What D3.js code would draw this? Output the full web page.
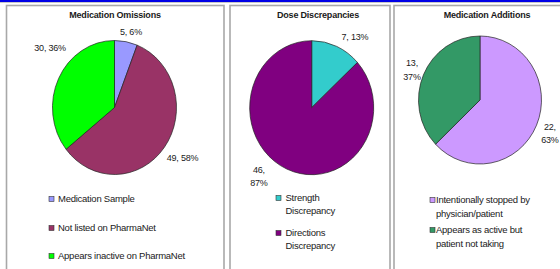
<!DOCTYPE html>
<html><head><meta charset="utf-8">
<script src="https://cdn.jsdelivr.net/npm/d3@7"></script>
<style>
html,body{margin:0;padding:0;background:#fff;}
svg{display:block;font-family:Arial,"Liberation Sans",sans-serif;}
</style></head>
<body>
<svg id="chart" width="560" height="269"></svg>
<script>
// ---- data ----
const omissionCategories = ["Medication Sample", "Not listed on PharmaNet", "Appears inactive on PharmaNet"];
const omissionValues = [5, 49, 30];
const doseCategories = ["Strength Discrepancy", "Directions Discrepancy"];
const doseValues = [7, 46];
const additionCategories = ["Intentionally stopped by physician/patient", "Appears as active but patient not taking"];
const additionValues = [22, 13];
const chartTitles = ["Medication Omissions", "Dose Discrepancies", "Medication Additions"];

// ---- layout / style ----
const colors = [
  ["#9999ff", "#993366", "#00ff00"],
  ["#33cccc", "#800080"],
  ["#cc99ff", "#339966"]
];
const charts = [
  {title: chartTitles[0], cats: omissionCategories, vals: omissionValues, colors: colors[0],
   panel: [6.5, 224], cx: 114.5, cy: 107.5, rx: 62, ry: 67, titleX: 115,
   lab: [{nudge: 2.5, rf: 1.16, wrap: false}, {nudge: -2, rf: 1.33, wrap: false}, {nudge: 15, rf: 1.37, wrap: false}],
   legend: {sx: 49, tx: 58, rows: [199, 228, 256], lines: [["Medication Sample"], ["Not listed on PharmaNet"], ["Appears inactive on PharmaNet"]], lh: 12}},
  {title: chartTitles[1], cats: doseCategories, vals: doseValues, colors: colors[1],
   panel: [230, 390], cx: 311.7, cy: 107.7, rx: 62, ry: 67, titleX: 318,
   lab: [{nudge: 9.5, rf: 1.27, wrap: false}, {nudge: 16, rf: 1.33, wrap: true}],
   legend: {sx: 276, tx: 285.5, rows: [198, 233], lines: [["Strength", "Discrepancy"], ["Directions", "Discrepancy"]], lh: 12.5}},
  {title: chartTitles[2], cats: additionCategories, vals: additionValues, colors: colors[2],
   panel: [394, 562], cx: 480, cy: 100, rx: 61.5, ry: 64, titleX: 487,
   lab: [{nudge: 1.4, rf: 1.25, wrap: true}, {nudge: -0.2, rf: 1.2, wrap: true}],
   legend: {sx: 430, tx: 436, rows: [200, 230], lines: [["Intentionally stopped by", "physician/patient"], ["Appears as active but", "patient not taking"]], lh: 14}}
];

const svg = d3.select("#chart");
const textColor = "#1a1a1a";

// top bar
svg.append("rect").attr("x", 0).attr("y", 0).attr("width", 560).attr("height", 2).attr("fill", "#0000e6");
svg.append("line").attr("x1", 0).attr("x2", 560).attr("y1", 2.5).attr("y2", 2.5).attr("stroke", "#c8c8c8").attr("stroke-width", 1);

charts.forEach(c => {
  // panel border
  svg.append("rect")
    .attr("x", c.panel[0]).attr("y", 5.5)
    .attr("width", c.panel[1] - c.panel[0]).attr("height", 280)
    .attr("fill", "#fff").attr("stroke", "#a8a8a8").attr("stroke-width", 1.6);

  // title
  svg.append("text").attr("x", c.titleX).attr("y", 15).attr("dy", "0.35em")
    .attr("text-anchor", "middle").attr("font-size", "9px").attr("font-weight", "bold")
    .attr("letter-spacing", "-0.2px")
    .attr("fill", textColor).text(c.title);

  const total = d3.sum(c.vals);
  const pie = d3.pie().sort(null).value(d => d)(c.vals);
  const arc = d3.arc().innerRadius(0).outerRadius(c.rx);
  const g = svg.append("g").attr("transform", `translate(${c.cx},${c.cy}) scale(1,${c.ry / c.rx})`);
  g.selectAll("path").data(pie).join("path")
    .attr("d", arc)
    .attr("fill", (d, i) => c.colors[i])
    .attr("stroke", "#222").attr("stroke-width", 0.7)
    .attr("vector-effect", "non-scaling-stroke");

  // data labels
  pie.forEach((d, i) => {
    const L = c.lab[i];
    const mid = (d.startAngle + d.endAngle) / 2 + L.nudge * Math.PI / 180;
    const x = c.cx + Math.sin(mid) * c.rx * L.rf;
    const y = c.cy - Math.cos(mid) * c.ry * L.rf;
    const pct = Math.round(d.value / total * 100) + "%";
    const lines = L.wrap ? [d.value + ",", pct] : [d.value + ", " + pct];
    const t = svg.append("text").attr("text-anchor", "middle")
      .attr("font-size", "9px").attr("fill", textColor).attr("letter-spacing", "-0.2px");
    lines.forEach((s, k) => {
      t.append("tspan").attr("x", x)
        .attr("y", y + (k - (lines.length - 1) / 2) * 13.5)
        .attr("dy", "0.35em").text(s);
    });
  });

  // legend
  const lg = c.legend;
  c.cats.forEach((cat, i) => {
    svg.append("rect").attr("x", lg.sx).attr("y", lg.rows[i] - 2.5)
      .attr("width", 5).attr("height", 5)
      .attr("fill", c.colors[i]).attr("stroke", "#333").attr("stroke-width", 0.6);
    const t = svg.append("text").attr("font-size", "9.5px").attr("fill", textColor)
      .attr("letter-spacing", "-0.25px");
    lg.lines[i].forEach((s, k) => {
      t.append("tspan").attr("x", lg.tx).attr("y", lg.rows[i] + k * lg.lh)
        .attr("dy", "0.35em").text(s);
    });
  });
});
</script>
</body></html>
